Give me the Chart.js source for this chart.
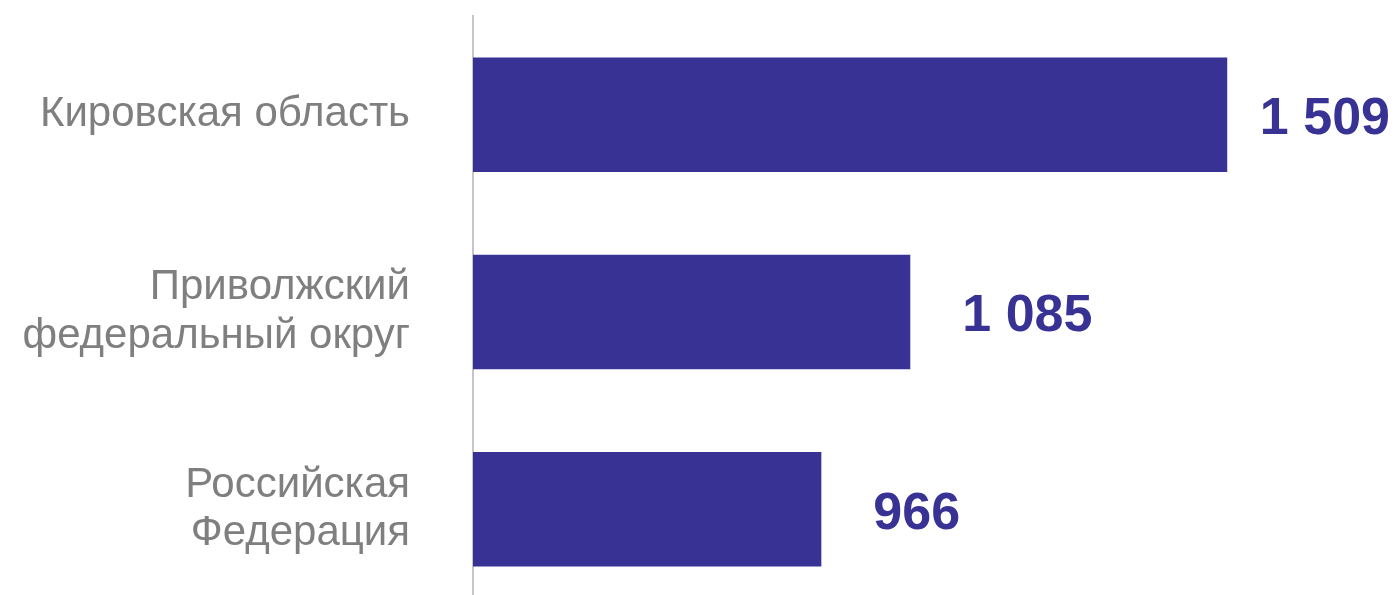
<!DOCTYPE html>
<html lang="ru">
<head>
<meta charset="utf-8">
<title>Кировская область</title>
<script src="https://cdn.jsdelivr.net/npm/chart.js@4/dist/chart.umd.min.js"></script>
<style>
  html, body { margin: 0; padding: 0; background: #ffffff; overflow: hidden; }
  #wrap { position: relative; width: 1400px; height: 608px; }
</style>
</head>
<body>
<div id="wrap"><canvas id="grafico"></canvas></div>
<script>
// datos
const categorias = [
    'Кировская область',
    ['Приволжский', 'федеральный округ'],
    ['Российская', 'Федерация']
];
const valores = [1509, 1085, 966];
const ejeMin = 500;
const ejeMax = 1700;

const colorBarra = '#373294';
const colorTexto = '#7f7f7f';

function formatoNumero(v) {
    return String(v).replace(/\B(?=(\d{3})+(?!\d))/g, ' ');
}

// etiquetas de valor a la derecha de cada barra
const etiquetasValor = {
    id: 'etiquetasValor',
    afterDatasetsDraw(chart) {
        const ctx = chart.ctx;
        const meta = chart.getDatasetMeta(0);
        ctx.save();
        ctx.font = 'bold 52px "Liberation Sans", Arial, sans-serif';
        ctx.fillStyle = colorBarra;
        ctx.textAlign = 'left';
        ctx.textBaseline = 'middle';
        meta.data.forEach((barra, i) => {
            const texto = formatoNumero(valores[i]);
            const ancho = ctx.measureText(texto).width;
            let x = barra.x + 52;
            if (x + ancho > chart.width - 10) {
                x = chart.width - 10 - ancho;
            }
            ctx.fillText(texto, x, barra.y + 5);
        });
        ctx.restore();
    }
};

const ctx = document.getElementById('grafico').getContext('2d');
const grafico = new Chart(ctx, {
    type: 'bar',
    data: {
        labels: categorias,
        datasets: [{
            data: valores,
            backgroundColor: colorBarra,
            borderWidth: 0,
            barPercentage: 0.58,
            categoryPercentage: 1
        }]
    },
    options: {
        indexAxis: 'y',
        responsive: true,
        maintainAspectRatio: false,
        animation: false,
        layout: {
            padding: { top: 16, right: 30, bottom: 0, left: 0 }
        },
        plugins: {
            legend: { display: false },
            tooltip: { enabled: false }
        },
        scales: {
            x: {
                display: false,
                min: ejeMin,
                max: ejeMax
            },
            y: {
                grid: { display: false, drawTicks: false },
                border: { display: true, color: '#c6c6c6', width: 2 },
                ticks: {
                    color: colorTexto,
                    padding: 63,
                    font: {
                        family: '"Liberation Sans", Arial, sans-serif',
                        size: 42,
                        lineHeight: 1.15
                    }
                },
                afterFit(scale) {
                    scale.width = 473;
                    scale.paddingTop = 0;
                    scale.paddingBottom = 0;
                }
            }
        }
    },
    plugins: [etiquetasValor]
});
</script>
</body>
</html>
